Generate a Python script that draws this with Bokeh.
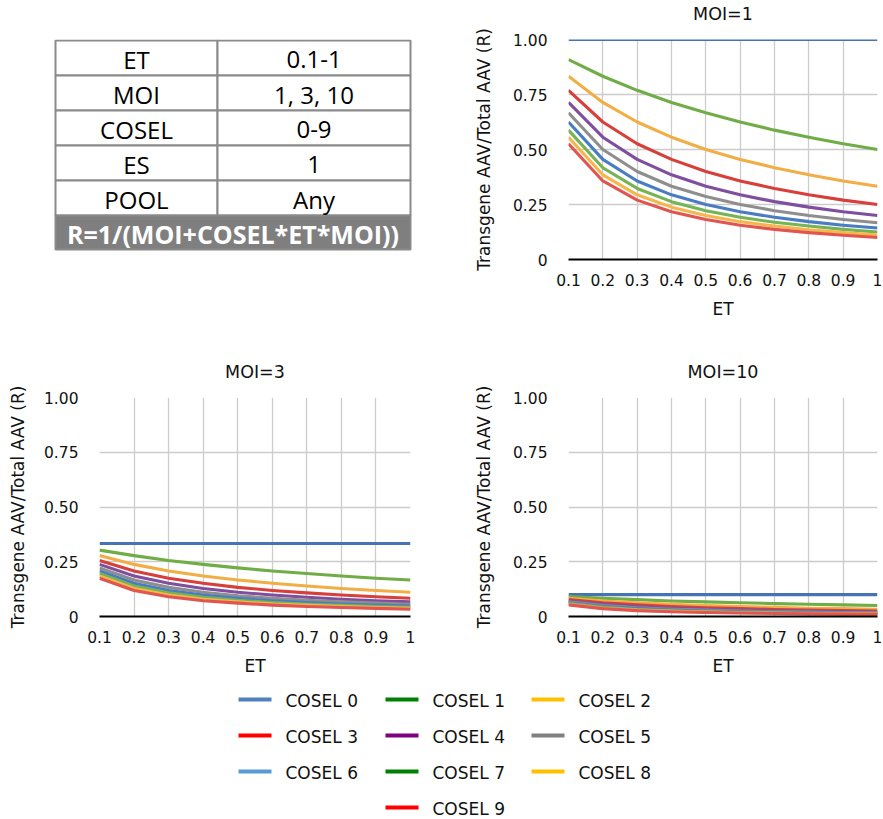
from bokeh.plotting import figure
from bokeh.layouts import column, row
from bokeh.models import Range1d, FixedTicker, Title
from bokeh.core.properties import value
from bokeh.embed import file_html
from bokeh.resources import INLINE

# ---------------- data ----------------
et = [0.1, 0.2, 0.3, 0.4, 0.5, 0.6, 0.7, 0.8, 0.9, 1.0]
x_tick_labels = ["0.1", "0.2", "0.3", "0.4", "0.5", "0.6", "0.7", "0.8", "0.9", "1"]
y_ticks = [0, 0.25, 0.5, 0.75, 1.0]
y_tick_labels = ["0", "0.25", "0.50", "0.75", "1.00"]

cosel_names = ["COSEL 0", "COSEL 1", "COSEL 2", "COSEL 3", "COSEL 4",
               "COSEL 5", "COSEL 6", "COSEL 7", "COSEL 8", "COSEL 9"]
line_colors = ["#4673B5", "#70AD47", "#F2AE45", "#D83E3A", "#7F4E9E",
               "#8E8E8E", "#4A7CC4", "#76B355", "#F6B64C", "#E2544F"]
legend_colors = ["#4F81BD", "#008000", "#FFC000", "#FF0000", "#800080",
                 "#808080", "#5B9BD5", "#008000", "#FFC000", "#FF0000"]

# R read from the MOI=1 panel, one row per COSEL 0..9
r_moi1 = [
    [1.0, 1.0, 1.0, 1.0, 1.0, 1.0, 1.0, 1.0, 1.0, 1.0],
    [0.909, 0.833, 0.769, 0.714, 0.667, 0.625, 0.588, 0.556, 0.526, 0.5],
    [0.833, 0.714, 0.625, 0.556, 0.5, 0.455, 0.417, 0.385, 0.357, 0.333],
    [0.769, 0.625, 0.526, 0.455, 0.4, 0.357, 0.323, 0.294, 0.27, 0.25],
    [0.714, 0.556, 0.455, 0.385, 0.333, 0.294, 0.263, 0.238, 0.217, 0.2],
    [0.667, 0.5, 0.4, 0.333, 0.286, 0.25, 0.222, 0.2, 0.182, 0.167],
    [0.625, 0.455, 0.357, 0.294, 0.25, 0.217, 0.192, 0.172, 0.156, 0.143],
    [0.588, 0.417, 0.323, 0.263, 0.222, 0.192, 0.169, 0.152, 0.137, 0.125],
    [0.556, 0.385, 0.294, 0.238, 0.2, 0.172, 0.152, 0.135, 0.122, 0.111],
    [0.526, 0.357, 0.27, 0.217, 0.182, 0.156, 0.137, 0.122, 0.11, 0.1],
]
# R read from the MOI=3 panel
r_moi3 = [
    [0.333, 0.333, 0.333, 0.333, 0.333, 0.333, 0.333, 0.333, 0.333, 0.333],
    [0.303, 0.278, 0.256, 0.238, 0.222, 0.208, 0.196, 0.185, 0.175, 0.167],
    [0.278, 0.238, 0.208, 0.185, 0.167, 0.152, 0.139, 0.128, 0.119, 0.111],
    [0.256, 0.208, 0.175, 0.152, 0.133, 0.119, 0.108, 0.098, 0.09, 0.083],
    [0.238, 0.185, 0.152, 0.128, 0.111, 0.098, 0.088, 0.079, 0.072, 0.067],
    [0.222, 0.167, 0.133, 0.111, 0.095, 0.083, 0.074, 0.067, 0.061, 0.056],
    [0.208, 0.152, 0.119, 0.098, 0.083, 0.072, 0.064, 0.057, 0.052, 0.048],
    [0.196, 0.139, 0.108, 0.088, 0.074, 0.064, 0.056, 0.051, 0.046, 0.042],
    [0.185, 0.128, 0.098, 0.079, 0.067, 0.057, 0.051, 0.045, 0.041, 0.037],
    [0.175, 0.119, 0.09, 0.072, 0.061, 0.052, 0.046, 0.041, 0.037, 0.033],
]
# R read from the MOI=10 panel
r_moi10 = [
    [0.1, 0.1, 0.1, 0.1, 0.1, 0.1, 0.1, 0.1, 0.1, 0.1],
    [0.091, 0.083, 0.077, 0.071, 0.067, 0.063, 0.059, 0.056, 0.053, 0.05],
    [0.083, 0.071, 0.063, 0.056, 0.05, 0.045, 0.042, 0.038, 0.036, 0.033],
    [0.077, 0.063, 0.053, 0.045, 0.04, 0.036, 0.032, 0.029, 0.027, 0.025],
    [0.071, 0.056, 0.045, 0.038, 0.033, 0.029, 0.026, 0.024, 0.022, 0.02],
    [0.067, 0.05, 0.04, 0.033, 0.029, 0.025, 0.022, 0.02, 0.018, 0.017],
    [0.063, 0.045, 0.036, 0.029, 0.025, 0.022, 0.019, 0.017, 0.016, 0.014],
    [0.059, 0.042, 0.032, 0.026, 0.022, 0.019, 0.017, 0.015, 0.014, 0.013],
    [0.056, 0.038, 0.029, 0.024, 0.02, 0.017, 0.015, 0.014, 0.012, 0.011],
    [0.053, 0.036, 0.027, 0.022, 0.018, 0.016, 0.014, 0.012, 0.011, 0.01],
]

table_params = ["ET", "MOI", "COSEL", "ES", "POOL"]
table_values = ["0.1-1", "1, 3, 10", "0-9", "1", "Any"]
table_formula = "R=1/(MOI+COSEL*ET*MOI))"

y_axis_title = "Transgene AAV/Total AAV (R)"
x_axis_title = "ET"

CH_FONT = "DejaVu Sans"
TB_FONT = "Open Sans"
TXT = "#111111"


def make_chart(title, series, width, height, bl, bt, br, bb, title_gap, ylab_gap):
    p = figure(width=width, height=height, output_backend="svg", toolbar_location=None,
               x_range=Range1d(0.1, 1.0), y_range=Range1d(0, 1.0),
               min_border_left=bl, min_border_top=bt, min_border_right=br,
               min_border_bottom=bb, title_location=None)
    p.outline_line_color = None
    for vals, col in zip(series, line_colors):
        p.line(et, vals, line_color=col, line_width=3.1, line_join="round")

    # blank spacer between frame and title, then the title itself
    p.add_layout(Title(text=" ", text_font_size="4px", standoff=title_gap,
                       text_color="white"), "above")
    p.add_layout(Title(text=title, align="center", vertical_align="top", standoff=0,
                       text_font=CH_FONT, text_font_size="17.5px",
                       text_font_style="normal", text_color=TXT), "above")

    p.xaxis.ticker = FixedTicker(ticks=et)
    p.xaxis.major_label_overrides = dict(zip(et, x_tick_labels))
    p.yaxis.ticker = FixedTicker(ticks=y_ticks)
    p.yaxis.major_label_overrides = dict(zip(y_ticks, y_tick_labels))
    for ax in (p.xaxis[0], p.yaxis[0]):
        ax.major_tick_line_color = None
        ax.minor_tick_line_color = None
        ax.major_tick_out = 0
        ax.major_tick_in = 0
        ax.minor_tick_out = 0
        ax.minor_tick_in = 0
        ax.major_label_text_font = CH_FONT
        ax.major_label_text_font_size = "15.5px"
        ax.major_label_text_color = TXT
        ax.axis_label_text_font = CH_FONT
        ax.axis_label_text_font_size = "17px"
        ax.axis_label_text_font_style = "normal"
        ax.axis_label_text_color = TXT
    p.xaxis.axis_line_color = "#000000"
    p.xaxis.axis_line_width = 1.8
    p.yaxis.axis_line_color = None
    p.xaxis.major_label_standoff = 14
    p.xaxis.axis_label_standoff = 10
    p.yaxis.major_label_standoff = 21
    p.yaxis.axis_label_standoff = ylab_gap
    p.xaxis.axis_label = x_axis_title
    p.yaxis.axis_label = y_axis_title
    p.xgrid.grid_line_color = "#CCCCCC"
    p.ygrid.grid_line_color = "#CCCCCC"
    p.xgrid.grid_line_width = 1.3
    p.ygrid.grid_line_width = 1.3
    return p


# ---------------- charts ----------------
p1 = make_chart("MOI=1", r_moi1, 412, 345, 96, 39, 5, 86, 7, 16)
p3 = make_chart("MOI=3", r_moi3, 470, 345, 99, 52, 60, 74, 7, 13)
p10 = make_chart("MOI=10", r_moi10, 412, 345, 96, 52, 5, 74, 7, 16)

# ---------------- table (same vertical borders as the MOI=1 chart) ----------------
TW, TH = 470, 345
tab = figure(width=TW, height=TH, output_backend="svg", toolbar_location=None,
             x_range=Range1d(0, TW), y_range=Range1d(259, 39),
             x_axis_type=None, y_axis_type=None, title_location=None,
             min_border_left=0, min_border_right=0, min_border_top=39, min_border_bottom=86)
tab.outline_line_color = None
tab.xgrid.visible = False
tab.ygrid.visible = False
t_left, t_mid, t_right, t_top, t_row = 55, 217, 410, 40, 35.0
n = len(table_params)
tops = [t_top + i * t_row for i in range(n)]
bots = [t_top + (i + 1) * t_row for i in range(n)]
tab.quad(left=[t_left] * n, right=[t_mid] * n, top=tops, bottom=bots,
         fill_color="white", line_color="#8A8A8A", line_width=2)
tab.quad(left=[t_mid] * n, right=[t_right] * n, top=tops, bottom=bots,
         fill_color="white", line_color="#8A8A8A", line_width=2)
f_top = t_top + n * t_row
tab.quad(left=[t_left], right=[t_right], top=[f_top], bottom=[f_top + t_row - 1],
         fill_color="#7F7F7F", line_color="#8A8A8A", line_width=2)
mids = [(a + b) / 2 + 1 for a, b in zip(tops, bots)]
tab.text(x=[(t_left + t_mid) / 2] * n, y=mids, text=table_params,
         text_align="center", text_baseline="middle", text_font=value(TB_FONT),
         text_font_size="24px", text_color="#000000")
tab.text(x=[(t_mid + t_right) / 2] * n, y=mids, text=table_values,
         text_align="center", text_baseline="middle", text_font=value(TB_FONT),
         text_font_size="24px", text_color="#000000")
tab.text(x=[(t_left + t_right) / 2], y=[f_top + t_row / 2 + 1], text=[table_formula],
         text_align="center", text_baseline="middle", text_font=value(TB_FONT),
         text_font_size="25px", text_font_style="bold", text_color="#FFFFFF")

# ---------------- legend ----------------
LW, LH = 882, 127
leg = figure(width=LW, height=LH, output_backend="svg", toolbar_location=None,
             x_range=Range1d(0, LW), y_range=Range1d(LH, 0),
             x_axis_type=None, y_axis_type=None, min_border=0, title_location=None)
leg.outline_line_color = None
leg.xgrid.visible = False
leg.ygrid.visible = False
col_x = [238, 385, 531]
row_y0, row_dy = 9, 36
lx, ly = [], []
for i in range(len(cosel_names)):
    if i < 9:
        c, r = i % 3, i // 3
    else:
        c, r = 1, 3
    lx.append(col_x[c])
    ly.append(row_y0 + r * row_dy)
leg.segment(x0=lx, y0=ly, x1=[v + 33 for v in lx], y1=ly,
            line_color=legend_colors, line_width=3.8)
leg.text(x=[v + 47 for v in lx], y=[v + 1 for v in ly], text=cosel_names,
         text_baseline="middle", text_font=value(CH_FONT), text_font_size="17px",
         text_color=TXT)

layout = column(row(tab, p1), row(p3, p10), leg)
open("out.html", "w").write(file_html(layout, INLINE))
